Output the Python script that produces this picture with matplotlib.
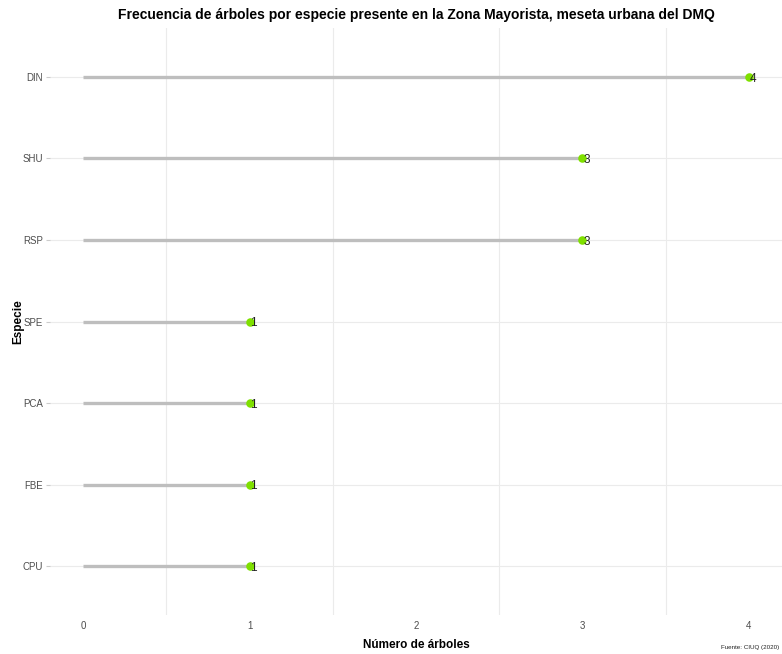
import matplotlib
matplotlib.use('Agg')
import matplotlib.pyplot as plt
import numpy as np

# datos
especies = ['CPU', 'FBE', 'PCA', 'SPE', 'RSP', 'SHU', 'DIN']
arboles = [1, 1, 1, 1, 3, 3, 4]

plt.rcParams['font.family'] = ['Liberation Sans', 'DejaVu Sans']

fig = plt.figure(figsize=(7.82, 6.54), dpi=100)
ax = fig.add_axes([50/782, 39/654, 732/782, 587/654])

y = np.arange(len(especies))
ax.hlines(y, 0, arboles, color='#bebebe', linewidth=2.4, zorder=2)
ax.scatter(arboles, y, s=38, color='#7fe000', zorder=3, linewidths=0)
for xi, yi in zip(arboles, y):
    ax.text(xi + 0.005, yi - 0.02, str(xi), fontsize=8.5, color='#222222',
            ha='left', va='center', zorder=4)

ax.set_xlim(-0.2, 4.2)
ax.set_ylim(-0.6, len(especies) - 0.4)
ax.set_yticks(y)
ax.set_yticklabels(especies)
ax.set_xticks([0, 1, 2, 3, 4])

ax.grid(False)
for yi in y:
    ax.axhline(yi, color='#ebebeb', linewidth=0.8, zorder=1)
for xm in [0.5, 1.5, 2.5, 3.5]:
    ax.axvline(xm, color='#ebebeb', linewidth=0.8, zorder=1)

for s in ax.spines.values():
    s.set_visible(False)
ax.tick_params(axis='y', length=3, color='#cccccc', labelsize=7, labelcolor='#4d4d4d', pad=2)
ax.tick_params(axis='x', length=0, labelsize=7, labelcolor='#4d4d4d', pad=4)

# titulos de ejes
fig.text(416/782, 1 - 645/654, 'Número de árboles', fontsize=8.5, fontweight='bold',
         ha='center', va='center')
fig.text(18/782, 1 - 322/654, 'Especie', fontsize=8.5, fontweight='bold',
         ha='center', va='center', rotation=90)
fig.text(416/782, 1 - 15/654,
         'Frecuencia de árboles por especie presente en la Zona Mayorista, meseta urbana del DMQ',
         fontsize=10, fontweight='bold', ha='center', va='center')
fig.text(779/782, 1 - 647/654, 'Fuente: CIUQ (2020)', fontsize=4.5, color='#222222',
         ha='right', va='center')

fig.savefig('out.png', dpi=100)
